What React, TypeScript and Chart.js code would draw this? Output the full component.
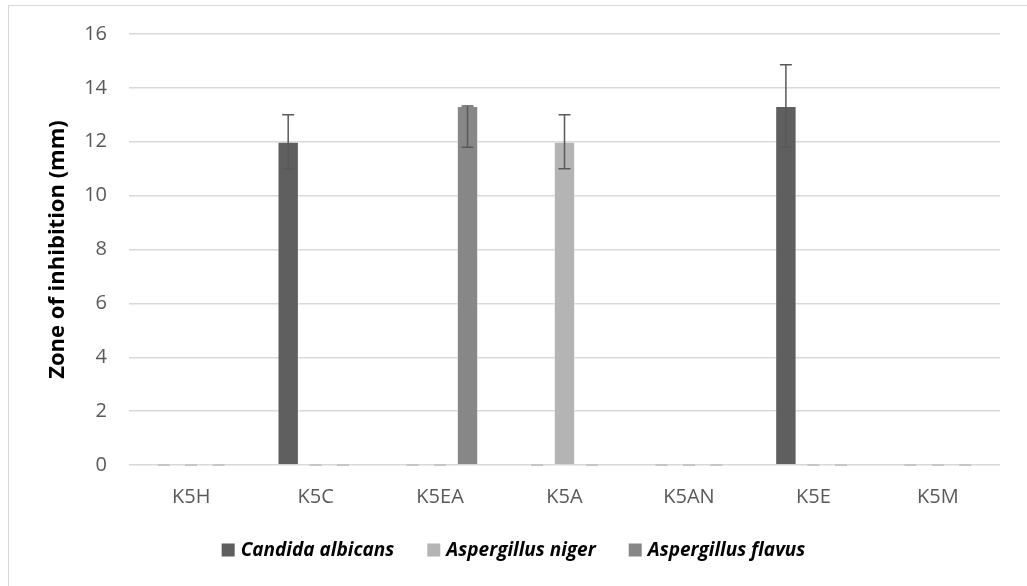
import React, { useEffect, useRef } from "react";
import { Chart, registerables } from "chart.js";

Chart.register(...registerables);

// Extracts and the inhibition zone they produced against each fungus (mm)
const categories = ["K5H", "K5C", "K5EA", "K5A", "K5AN", "K5E", "K5M"];
const seriesNames = ["Candida albicans", "Aspergillus niger", "Aspergillus flavus"];
const candida = [0, 12, 0, 0, 0, 13.33, 0];
const niger = [0, 0, 0, 12, 0, 0, 0];
const flavus = [0, 0, 13.33, 0, 0, 0, 0];

// Error bar extents above / below each mean
const candidaErrPlus = [0, 1, 0, 0, 0, 1.53, 0];
const candidaErrMinus = [0, 1, 0, 0, 0, 1.53, 0];
const nigerErrPlus = [0, 0, 0, 1, 0, 0, 0];
const nigerErrMinus = [0, 0, 0, 1, 0, 0, 0];
const flavusErrPlus = [0, 0, 0, 0, 0, 0, 0];
const flavusErrMinus = [0, 0, 1.53, 0, 0, 0, 0];

const yTicks = [0, 2, 4, 6, 8, 10, 12, 14, 16];

const colors = ["#5f5f5f", "#b4b4b4", "#878787"];
const FONT = "'Open Sans', 'DejaVu Sans', sans-serif";

const errors = [
  { plus: candidaErrPlus, minus: candidaErrMinus },
  { plus: nigerErrPlus, minus: nigerErrMinus },
  { plus: flavusErrPlus, minus: flavusErrMinus },
];

const errorBarPlugin = {
  id: "errorBars",
  afterDatasetsDraw(chart: any) {
    const ctx = chart.ctx;
    const yScale = chart.scales.y;
    chart.data.datasets.forEach((ds: any, i: number) => {
      const meta = chart.getDatasetMeta(i);
      meta.data.forEach((el: any, j: number) => {
        const v = ds.data[j];
        ctx.save();
        if (v === 0) {
          // zero-height bars show as a short stub on the baseline
          ctx.strokeStyle = "#c6c6c6";
          ctx.lineWidth = 2;
          const y0 = yScale.getPixelForValue(0);
          ctx.beginPath();
          ctx.moveTo(el.x - 6, y0);
          ctx.lineTo(el.x + 6, y0);
          ctx.stroke();
          ctx.restore();
          return;
        }
        const p = errors[i].plus[j];
        const m = errors[i].minus[j];
        if (p > 0 || m > 0) {
          const yTop = yScale.getPixelForValue(v + p);
          const yBot = yScale.getPixelForValue(v - m);
          ctx.strokeStyle = "#595959";
          ctx.lineWidth = 1.5;
          ctx.beginPath();
          ctx.moveTo(el.x, yTop);
          ctx.lineTo(el.x, yBot);
          ctx.moveTo(el.x - 6, yTop);
          ctx.lineTo(el.x + 6, yTop);
          ctx.moveTo(el.x - 6, yBot);
          ctx.lineTo(el.x + 6, yBot);
          ctx.stroke();
        }
        ctx.restore();
      });
    });
  },
};

const legendPlugin = {
  id: "bottomLegend",
  afterDraw(chart: any) {
    const ctx = chart.ctx;
    const box = 13;
    const gapText = 6;
    const gapItem = 33;
    const yMid = 550;
    ctx.save();
    ctx.font = `italic bold 19px ${FONT}`;
    ctx.textBaseline = "middle";
    const widths = chart.data.datasets.map((d: any) => ctx.measureText(d.label).width);
    const total =
      widths.reduce((a: number, b: number) => a + b, 0) +
      chart.data.datasets.length * (box + gapText) +
      (chart.data.datasets.length - 1) * gapItem;
    let x = chart.width / 2 - total / 2;
    chart.data.datasets.forEach((d: any, i: number) => {
      ctx.fillStyle = d.backgroundColor;
      ctx.fillRect(x, yMid - box / 2, box, box);
      x += box + gapText;
      ctx.fillStyle = "#000000";
      ctx.fillText(d.label, x, yMid + 1);
      x += widths[i] + gapItem;
    });
    ctx.restore();
  },
};

export default function App() {
  const canvasRef = useRef<HTMLCanvasElement | null>(null);

  useEffect(() => {
    if (!canvasRef.current) return;
    const seriesData = [candida, niger, flavus];
    const chart = new Chart(canvasRef.current, {
      type: "bar",
      data: {
        labels: categories,
        datasets: seriesNames.map((name, i) => ({
          label: name,
          data: seriesData[i],
          backgroundColor: colors[i],
          borderColor: "rgba(255,255,255,0.35)",
          borderWidth: 1,
          categoryPercentage: 0.662,
          barPercentage: 0.78,
        })),
      },
      options: {
        responsive: false,
        animation: false,
        devicePixelRatio: 1,
        layout: { padding: { left: 0, right: 27, top: 34, bottom: 71 } },
        plugins: {
          legend: { display: false },
          tooltip: { enabled: false },
        },
        scales: {
          x: {
            grid: { display: false, drawTicks: false },
            border: { display: false },
            ticks: {
              color: "#595959",
              font: { family: FONT, size: 20 },
              padding: 20,
              maxRotation: 0,
            },
            afterFit: (s: any) => {
              s.height = 50;
            },
          },
          y: {
            min: 0,
            max: 16,
            afterBuildTicks: (s: any) => {
              s.ticks = yTicks.map((v) => ({ value: v }));
            },
            grid: { color: "#d9d9d9", lineWidth: 1.5, drawTicks: false },
            border: { display: false },
            ticks: {
              color: "#595959",
              font: { family: FONT, size: 20 },
              padding: 22,
            },
            title: {
              display: true,
              text: "Zone of inhibition (mm)",
              color: "#000000",
              font: { family: FONT, size: 22, weight: "bold" },
              padding: { top: 45, bottom: 0 },
            },
            afterFit: (s: any) => {
              s.width = 129;
            },
          },
        },
      },
      plugins: [errorBarPlugin, legendPlugin],
    });
    return () => chart.destroy();
  }, []);

  return (
    <div
      style={{
        position: "absolute",
        left: 0,
        top: 0,
        width: 1027,
        height: 586,
        overflow: "hidden",
        background: "#ffffff",
      }}
    >
      <div
        style={{
          position: "absolute",
          left: 8,
          top: 5,
          width: 1100,
          height: 700,
          borderTop: "1.5px solid #d9d9d9",
          borderLeft: "1.5px solid #d9d9d9",
        }}
      />
      <canvas
        ref={canvasRef}
        width={1027}
        height={586}
        style={{ position: "absolute", left: 0, top: 0 }}
      />
    </div>
  );
}
